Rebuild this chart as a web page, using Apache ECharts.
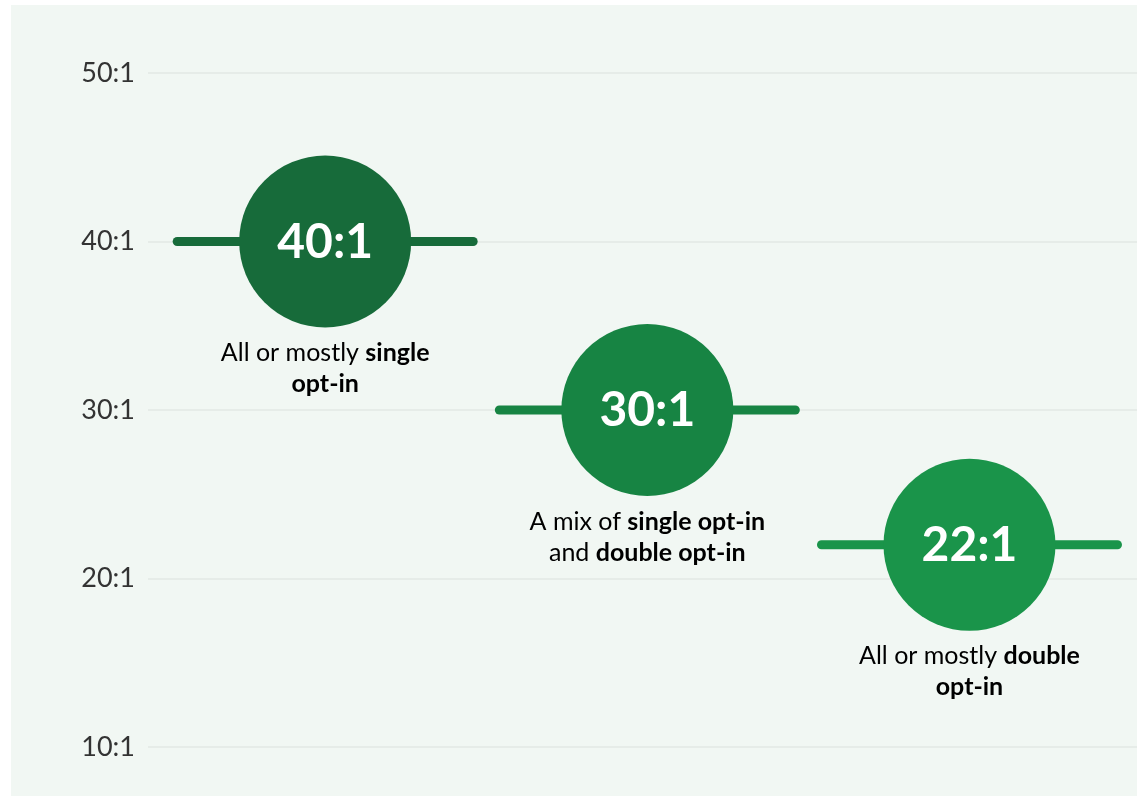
<!DOCTYPE html>
<html>
<head>
<meta charset="utf-8">
<script src="https://cdn.jsdelivr.net/npm/echarts@6/dist/echarts.min.js"></script>
<style>
  html, body { margin: 0; padding: 0; background: #ffffff; }
  #panel { position: absolute; left: 11px; top: 5px; width: 1126px; height: 791px; background: #f1f7f3; }
  #chart { position: absolute; left: 0; top: 0; width: 1137px; height: 796px; }
</style>
</head>
<body>
<div id="panel"></div>
<div id="chart"></div>
<script>
// Data
const categories = ['All or mostly single opt-in', 'A mix of single opt-in and double opt-in', 'All or mostly double opt-in'];
const ratios = [40, 30, 22];
const ratioLabels = ['40:1', '30:1', '22:1'];
const descriptions = [
  '{n|All or mostly }{b|single}\n{b|opt-in}',
  '{n|A mix of }{b|single opt-in}\n{n|and }{b|double opt-in}',
  '{n|All or mostly }{b|double}\n{b|opt-in}'
];
const yTicks = [10, 20, 30, 40, 50];
const colors = ['#176b3a', '#178443', '#1a944a'];

const FONT = 'Lato, "Open Sans", sans-serif';

const chart = echarts.init(document.getElementById('chart'), null, { renderer: 'canvas' });

const option = {
  animation: false,
  grid: { left: 148, right: 0, top: 73, bottom: 49 },
  xAxis: {
    type: 'value',
    min: -0.55,
    max: 2.52,
    show: false
  },
  yAxis: {
    type: 'value',
    min: yTicks[0],
    max: yTicks[yTicks.length - 1],
    interval: 10,
    axisLine: { show: false },
    axisTick: { show: false },
    axisLabel: {
      formatter: v => v + ':1',
      color: '#333333',
      fontSize: 27,
      fontFamily: FONT,
      margin: 13
    },
    splitLine: { lineStyle: { color: '#e2e8e4', width: 1.5 } }
  },
  series: [{
    type: 'custom',
    data: ratios.map((v, i) => [i, v]),
    renderItem: function (params, api) {
      const i = params.dataIndex;
      const p = api.coord([api.value(0), api.value(1)]);
      const c = colors[i];
      return {
        type: 'group',
        children: [
          {
            type: 'line',
            shape: { x1: p[0] - 148, y1: p[1], x2: p[0] + 148, y2: p[1] },
            style: { stroke: c, lineWidth: 9, lineCap: 'round' }
          },
          {
            type: 'circle',
            shape: { cx: p[0], cy: p[1], r: 86 },
            style: { fill: c }
          },
          {
            type: 'text',
            style: {
              text: ratioLabels[i],
              x: p[0], y: p[1] + 1,
              align: 'center', verticalAlign: 'middle',
              fill: '#ffffff',
              font: 'bold 48px ' + FONT
            }
          },
          {
            type: 'text',
            style: {
              text: descriptions[i],
              x: p[0], y: p[1] + 96,
              align: 'center', verticalAlign: 'top',
              rich: {
                n: { fontSize: 25, fontFamily: FONT, color: '#3a3a3a', lineHeight: 31 },
                b: { fontSize: 25, fontFamily: FONT, fontWeight: 'bold', color: '#3a3a3a', lineHeight: 31 }
              }
            }
          }
        ]
      };
    }
  }]
};

chart.setOption(option);
</script>
</body>
</html>
